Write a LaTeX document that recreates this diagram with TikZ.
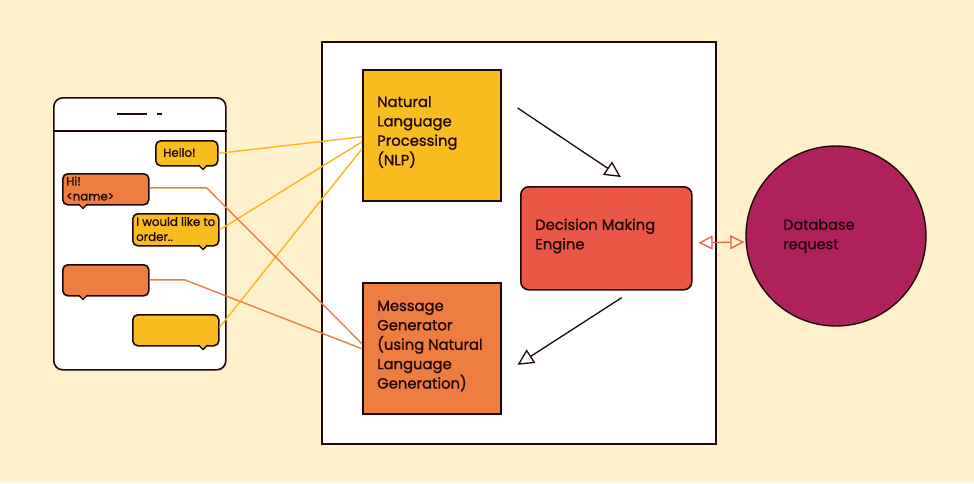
\documentclass[tikz,border=0pt]{standalone}
\usepackage{fontspec}
\setmainfont{Poppins}[FakeBold=1.2]
\newfontfamily\dbfont{Poppins}[FakeBold=0.6]
\usetikzlibrary{arrows.meta}
\definecolor{bg}{HTML}{FFF0CC}
\definecolor{ylw}{HTML}{FABD1F}
\definecolor{org}{HTML}{EE7D42}
\definecolor{redd}{HTML}{EB5747}
\definecolor{mag}{HTML}{AF215B}
\definecolor{ink}{HTML}{1F0808}
\definecolor{dbl}{HTML}{EA5F48}
\tikzset{
  box/.style={draw=ink, line width=1.6pt, anchor=north west, inner sep=0pt},
  boxtext/.style={font=\fontsize{14.8}{19.4}\selectfont, align=left, anchor=west, text=ink, inner sep=0pt},
  bubble/.style={draw=ink, line width=1.6pt, rounded corners=5pt, anchor=north west, inner sep=0pt},
  btext/.style={font=\fontsize{11.8}{15}\selectfont, align=left, anchor=west, text=ink, inner sep=0pt},
  yline/.style={draw=ylw!90!orange, line width=1.4pt},
  oline/.style={draw=org, line width=1.4pt},
  flow/.style={draw=ink, line width=1.3pt, -{Triangle[open, length=16pt, width=16pt, line width=1.3pt]}},
  dblarrow/.style={draw=dbl, line width=1.3pt, {Triangle[open, length=14pt, width=14pt, line width=1.3pt]}-{Triangle[open, length=14pt, width=14pt, line width=1.3pt]}}
}
\newcommand{\tailat}[3]{% x, bottom y, color
  \fill[#3] (#1-4.5,#2-1.2) -- (#1,#2+4.5) -- (#1+4.5,#2-1.2) -- cycle;
  \draw[ink, line width=1.4pt, line join=round] (#1-4.5,#2) -- (#1,#2+4.5) -- (#1+4.5,#2);
}
\begin{document}
\begin{tikzpicture}[x=1pt,y=-1pt]
\useasboundingbox (0,0) rectangle (974,483);
\fill[bg] (0,0) rectangle (974,483);

% main white frame
\node[box, fill=white, minimum width=394pt, minimum height=402pt] (frame) at (321,41) {};

% phone
\node[box, fill=white, rounded corners=9pt, minimum width=172pt, minimum height=272pt] (phone) at (53,97) {};
\draw[ink, line width=1.6pt] (phone.west |- 0,131) coordinate (hl) -- (phone.east |- 0,131) coordinate (hr);
\draw[ink, line width=2pt] (117,114) coordinate (d1) -- (147,114) coordinate (d2);
\draw[ink, line width=2pt] (157,114) coordinate (d3) -- (162,114) coordinate (d4);

% bubbles
\node[bubble, fill=ylw, minimum width=62pt, minimum height=25pt] (hello) at (155,140) {};
\node[btext] (hellot) at (163,152.5) {Hello!};
\tailat{203}{165}{ylw}

\node[bubble, fill=org, minimum width=86pt, minimum height=31pt] (hi) at (62,173) {};
\node[btext] (hit) at (66,188.5) {Hi!\\<name>};
\tailat{83}{204}{org}

\node[bubble, fill=ylw, minimum width=86pt, minimum height=32pt] (order) at (132,213) {};
\node[btext] (ordert) at (136,229) {I would like to\\order..};
\tailat{203}{245}{ylw}

\node[bubble, fill=org, minimum width=86pt, minimum height=31pt] (oempty) at (62,264) {};
\tailat{83}{295}{org}

\node[bubble, fill=ylw, minimum width=86pt, minimum height=31pt] (yempty) at (132,314) {};
\tailat{203}{345}{ylw}

% main boxes
\node[box, fill=ylw, minimum width=138pt, minimum height=131pt] (nlp) at (362,69) {};
\node[boxtext] (nlpt) at (377,132) {Natural\\Language\\Processing\\(NLP)};

\node[box, fill=org, minimum width=138pt, minimum height=131pt] (msg) at (362,282) {};
\node[boxtext] (msgt) at (377,346) {Message\\Generator\\(using Natural\\Language\\Generation)};

\node[box, fill=redd, rounded corners=8pt, minimum width=171pt, minimum height=103pt] (dec) at (520,186) {};
\node[boxtext] (dect) at (535,236) {Decision Making\\Engine};

\node[circle, draw=ink, line width=1.4pt, fill=mag, minimum size=180pt, inner sep=0pt] (db) at (836,236) {};
\node[boxtext, font=\dbfont\fontsize{14.5}{19.5}\selectfont] (dbt) at (783,236) {Database\\request};

% connectors from bubbles
\draw[yline] (hello.east) -- ([yshift=-1.5pt]nlp.west);
\draw[yline] (order.east) -- ([yshift=-6.5pt]nlp.west);
\draw[yline] ([yshift=3pt]yempty.east) -- ([yshift=-13.5pt]nlp.west);
\draw[oline] ([yshift=1.5pt]hi.east) -- ++(57,0) -- ([yshift=4.5pt]msg.west);
\draw[oline] ([yshift=0.5pt]oempty.east) -- ++(35,0) -- ([yshift=-0.5pt]msg.west);

% flow arrows
\draw[flow] ([xshift=16pt,yshift=-39pt]nlp.north east) -- ([xshift=14.5pt,yshift=9pt]dec.north);
\draw[flow] ([xshift=15.5pt,yshift=-7pt]dec.south) -- ([xshift=16pt,yshift=-16.5pt]msg.east);
\draw[dblarrow] ([xshift=6pt,yshift=-4.5pt]dec.east) -- ([xshift=-1pt,yshift=-6pt]db.west);
\end{tikzpicture}
\end{document}
